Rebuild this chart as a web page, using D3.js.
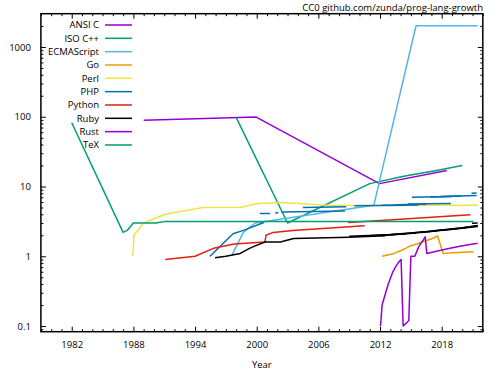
<!DOCTYPE html>
<html>
<head>
<meta charset="utf-8">
<script src="https://cdn.jsdelivr.net/npm/d3@7"></script>
<style>
  body { margin: 0; background: #fff; }
  svg text { font-family: "Open Sans", sans-serif; font-size: 9.5px; fill: #000; }
</style>
</head>
<body>
<script>

// Dados: [ano, versao] por segmento
var languages = ["ANSI C", "ISO C++", "ECMAScript", "Go", "Perl", "PHP", "Python", "Ruby", "Rust", "TeX"];

var ansiC = [[[1989.0, 89], [1999.95, 99], [2011.95, 11], [2018.5, 17]]];

var isoCpp = [[[1998.0, 98], [2003.0, 3], [2011.0, 11], [2014.3, 14], [2017.5, 17], [2020.0, 20]]];

var ecmaScript = [[[1997.6, 1.05], [1998.7, 2.2], [1999.85, 3], [2009.9, 5], [2011.4, 5.4],
                   [2015.5, 2015], [2016.5, 2016], [2017.5, 2017], [2018.5, 2018],
                   [2019.5, 2019], [2020.5, 2020], [2021.5, 2021]]];

var go = [[[2012.2, 1.0], [2013.4, 1.1], [2014.0, 1.2], [2014.5, 1.3], [2014.9, 1.4], [2015.6, 1.5],
           [2016.1, 1.6], [2016.6, 1.7], [2017.1, 1.8], [2017.6, 1.95], [2018.15, 1.1],
           [2018.6, 1.11], [2019.1, 1.12], [2019.6, 1.13], [2020.1, 1.14], [2020.6, 1.15], [2021.1, 1.16]]];

var perl = [[[1987.95, 1.0], [1988.05, 2.0], [1989.0, 3.0], [1991.1, 4.0], [1994.8, 5.0], [1998.5, 5.05],
             [1999.3, 5.4], [2000.2, 5.7], [2002.5, 5.9], [2007.3, 5.35], [2021.5, 5.4]]];

var php = [[[1995.45, 1.0], [1997.7, 2.1], [1998.7, 2.35], [2000.7, 3.05]],
           [[2000.3, 4.1], [2001.3, 4.12]],
           [[2001.8, 4.18], [2002.1, 4.2]],
           [[2002.4, 4.3], [2008.6, 4.45]],
           [[2004.5, 5.02], [2008.7, 5.12]],
           [[2009.5, 5.3], [2014.6, 5.4]],
           [[2012.2, 5.4], [2015.7, 5.45]],
           [[2013.5, 5.5], [2016.5, 5.55]],
           [[2014.7, 5.6], [2018.9, 5.7]],
           [[2015.1, 7.0], [2019.0, 7.2]],
           [[2016.9, 7.1], [2019.9, 7.3]],
           [[2017.9, 7.2], [2021.4, 7.45]],
           [[2020.9, 8.0], [2021.4, 8.1]]];

var python = [[[1991.1, 0.9], [1994.0, 1.0], [1995.8, 1.3], [1997.8, 1.5], [2000.8, 1.6], [2000.9, 2.0],
               [2001.6, 2.2], [2003.5, 2.35], [2010.5, 2.75]],
              [[2008.9, 3.05], [2014.0, 3.4], [2020.8, 3.95]]];

var ruby = [[[1995.95, 0.95], [1997.0, 1.0], [1998.4, 1.1], [1999.3, 1.3], [1999.8, 1.4], [2000.8, 1.6],
             [2002.3, 1.6], [2003.6, 1.8], [2009.0, 1.87]],
            [[2009.0, 1.87], [2012.5, 1.97]],
            [[2009.0, 1.93], [2013.5, 2.05]],
            [[2010.5, 1.95], [2014.5, 2.1]],
            [[2012.0, 1.97], [2015.5, 2.15]],
            [[2013.1, 2.05], [2016.5, 2.22]],
            [[2014.0, 2.1], [2017.5, 2.3]],
            [[2015.0, 2.15], [2018.5, 2.4]],
            [[2016.0, 2.2], [2019.5, 2.5]],
            [[2017.0, 2.3], [2020.5, 2.6]],
            [[2018.0, 2.35], [2021.5, 2.68]],
            [[2019.0, 2.45], [2021.5, 2.73]],
            [[2020.0, 2.55], [2021.5, 2.76]],
            [[2020.95, 2.98], [2021.5, 3.0]]];

var rust = [[[2012.05, 0.1], [2012.2, 0.2], [2012.55, 0.3], [2012.8, 0.4], [2013.05, 0.5], [2013.25, 0.6],
             [2013.5, 0.7], [2013.75, 0.8], [2014.05, 0.9], [2014.25, 0.1], [2014.55, 0.11], [2014.8, 0.12],
             [2015.0, 1.0], [2015.38, 1.0], [2015.5, 1.1], [2015.6, 1.2], [2015.7, 1.3], [2015.8, 1.4],
             [2015.95, 1.5], [2016.05, 1.6], [2016.2, 1.7], [2016.3, 1.8], [2016.4, 1.9], [2016.55, 1.1],
             [2017.7, 1.2], [2018.8, 1.3], [2019.9, 1.4], [2021.5, 1.54]]];

var tex = [[[1982.0, 82], [1987.0, 2.2], [1987.4, 2.35], [1988.0, 3.0], [1990.2, 3.0], [1991.0, 3.14], [2021.1, 3.14]]];

var seriesData = [ansiC, isoCpp, ecmaScript, go, perl, php, python, ruby, rust, tex];

var yTickValues = [0.1, 1, 10, 100, 1000];
var yTickLabels = ["0.1", "1", "10", "100", "1000"];
var xTickValues = [1982, 1988, 1994, 2000, 2006, 2012, 2018];

// Cores padrao do gnuplot
var colors = ["#9400d3", "#009e73", "#56b4e9", "#e69f00", "#f0e442", "#0072b2", "#e51e10", "#000000", "#9400d3", "#009e73"];

// Margens
var width = 500, height = 375;
var plot = {left: 40.9, right: 482.8, top: 13.7, bottom: 331.7};

// Escalas
var xScale = d3.scaleLinear().domain([1979, 2022]).range([plot.left, plot.right]);
var yScale = d3.scaleLog().domain([0.083, 3000]).range([plot.bottom, plot.top]);

var mySVG = d3.select("body").append("svg")
  .attr("width", width)
  .attr("height", height);

// Ticks menores
var xMinor = d3.range(1979, 2023).filter(function(d){ return xTickValues.indexOf(d) < 0; });
var yMinor = [];
[0.01, 0.1, 1, 10, 100, 1000].forEach(function(dec){
  for (var k = 2; k <= 9; k++) {
    var v = dec * k;
    if (v > 0.083 && v < 3000) yMinor.push(v);
  }
});

function cleanAxis(g) {
  g.select(".domain").remove();
  g.selectAll(".tick line").attr("stroke", "#000").attr("stroke-width", 1);
}

// Eixos X
mySVG.append("g")
  .attr("transform", "translate(0," + plot.bottom + ")")
  .call(d3.axisBottom(xScale).tickValues(xTickValues).tickSize(-5).tickPadding(10).tickFormat(d3.format("d")))
  .call(cleanAxis)
  .selectAll("text").attr("font-size", null).attr("font-family", null);
mySVG.append("g")
  .attr("transform", "translate(0," + plot.bottom + ")")
  .call(d3.axisBottom(xScale).tickValues(xMinor).tickSize(-2.5).tickFormat(""))
  .call(cleanAxis);
mySVG.append("g")
  .attr("transform", "translate(0," + plot.top + ")")
  .call(d3.axisTop(xScale).tickValues(xTickValues).tickSize(-5).tickFormat(""))
  .call(cleanAxis);
mySVG.append("g")
  .attr("transform", "translate(0," + plot.top + ")")
  .call(d3.axisTop(xScale).tickValues(xMinor).tickSize(-2.5).tickFormat(""))
  .call(cleanAxis);

// Eixos Y
mySVG.append("g")
  .attr("transform", "translate(" + plot.left + ",0)")
  .call(d3.axisLeft(yScale).tickValues(yTickValues).tickSize(-5).tickPadding(10)
    .tickFormat(function(d, i){ return yTickLabels[i]; }))
  .call(cleanAxis)
  .selectAll("text").attr("font-size", null).attr("font-family", null);
mySVG.append("g")
  .attr("transform", "translate(" + plot.left + ",0)")
  .call(d3.axisLeft(yScale).tickValues(yMinor).tickSize(-2.5).tickFormat(""))
  .call(cleanAxis);
mySVG.append("g")
  .attr("transform", "translate(" + plot.right + ",0)")
  .call(d3.axisRight(yScale).tickValues(yTickValues).tickSize(-5).tickFormat(""))
  .call(cleanAxis);
mySVG.append("g")
  .attr("transform", "translate(" + plot.right + ",0)")
  .call(d3.axisRight(yScale).tickValues(yMinor).tickSize(-2.5).tickFormat(""))
  .call(cleanAxis);

// Linhas
var myLine = d3.line()
  .x(function(d){ return xScale(d[0]); })
  .y(function(d){ return yScale(d[1]); });

seriesData.forEach(function(segs, i){
  mySVG.append("g")
    .selectAll("path")
    .data(segs)
    .enter()
    .append("path")
    .attr("fill", "none")
    .attr("stroke", colors[i])
    .attr("stroke-width", 1.5)
    .attr("stroke-linejoin", "round")
    .attr("d", myLine);
});

// Borda
mySVG.append("rect")
  .attr("x", plot.left)
  .attr("y", plot.top)
  .attr("width", plot.right - plot.left)
  .attr("height", plot.bottom - plot.top)
  .attr("fill", "none")
  .attr("stroke", "#000")
  .attr("stroke-width", 1.5);

// Legenda
var legend = mySVG.append("g");
languages.forEach(function(name, i){
  var ly = 25 + i * 13.33;
  legend.append("text")
    .attr("x", 99)
    .attr("y", ly + 3.4)
    .attr("text-anchor", "end")
    .text(name);
  legend.append("line")
    .attr("x1", 105).attr("x2", 132)
    .attr("y1", ly).attr("y2", ly)
    .attr("stroke", colors[i])
    .attr("stroke-width", 1.5);
});

// Titulo e rotulo
mySVG.append("text")
  .attr("x", 483)
  .attr("y", 10.5)
  .attr("text-anchor", "end")
  .text("CC0 github.com/zunda/prog-lang-growth");

mySVG.append("text")
  .attr("x", (plot.left + plot.right) / 2)
  .attr("y", 367.5)
  .attr("text-anchor", "middle")
  .text("Year");

</script>
</body>
</html>
